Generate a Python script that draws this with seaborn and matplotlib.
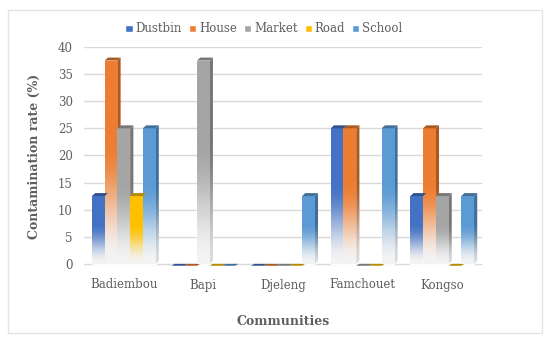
import numpy as np
import pandas as pd
import matplotlib
matplotlib.use("Agg")
import matplotlib.pyplot as plt
import matplotlib.colors as mcolors
from matplotlib.patches import Polygon, Rectangle
import seaborn as sns

communities = ["Badiembou", "Bapi", "Djeleng", "Famchouet", "Kongso"]
sources = ["Dustbin", "House", "Market", "Road", "School"]
dustbin = [12.5, 0, 0, 25, 12.5]
house = [37.5, 0, 0, 25, 25]
market = [25, 37.5, 0, 0, 12.5]
road = [12.5, 0, 0, 0, 0]
school = [25, 0, 12.5, 25, 12.5]
yticks = [0, 5, 10, 15, 20, 25, 30, 35, 40]
colors = ["#4472C4", "#ED7D31", "#A5A5A5", "#FFC000", "#5B9BD5"]

series = {"Dustbin": dustbin, "House": house, "Market": market, "Road": road, "School": school}
rows = []
for s in sources:
    for c, v in zip(communities, series[s]):
        rows.append({"Community": c, "Source": s, "Rate": v})
df = pd.DataFrame(rows)

sns.set_theme(style="white")
plt.rcParams["font.family"] = ["DejaVu Serif"]
txt = "#5F5F5F"

fig = plt.figure(figsize=(5.5, 3.41), dpi=100)
fig.patch.set_facecolor("white")
fig.add_artist(Rectangle((8 / 550, 1 - 333 / 341), 534 / 550, 323 / 341,
                         transform=fig.transFigure, fill=False,
                         edgecolor="#E3E3E3", linewidth=1.0))
ax = fig.add_axes([84 / 550, 1 - 266 / 341, 398 / 550, 219 / 341])

sns.barplot(data=df, x="Community", y="Rate", hue="Source", order=communities,
            hue_order=sources, palette=colors, width=0.8, dodge=True, ax=ax,
            saturation=1, legend=True)

ax.set_yticks(yticks)
ax.yaxis.grid(True, color="#D9D9D9", linewidth=1.0)
ax.set_axisbelow(True)
for sp in ax.spines.values():
    sp.set_visible(False)

dx = 0.04
dy = 0.55
grad_n = 200
base_white = np.array(mcolors.to_rgb("#F4F4F4"))
for i, s in enumerate(sources):
    col = np.array(mcolors.to_rgb(colors[i]))
    dark = col * 0.72
    for j, c in enumerate(communities):
        idx = i * len(communities) + j
        p = ax.patches[idx]
        x0 = p.get_x()
        w = p.get_width()
        h = p.get_height()
        if h <= 0:
            p.set_visible(False)
            slab = Polygon([[x0, -0.35], [x0 + w, -0.35], [x0 + w + dx, 0.0], [x0 + dx, 0.0]],
                           closed=True, facecolor=dark, edgecolor="none", zorder=3,
                           clip_on=False)
            ax.add_patch(slab)
            continue
        p.set_zorder(3)
        t = np.linspace(0, 1, grad_n)
        m = np.clip(t / 0.6, 0, 1)
        m = m * m * (3 - 2 * m)
        rgb = base_white[None, :] * (1 - m[:, None]) + col[None, :] * m[:, None]
        im = ax.imshow(rgb[:, None, :], extent=[x0, x0 + w, 0, h], origin="lower",
                       aspect="auto", zorder=3.5, interpolation="bilinear")
        im.set_clip_path(p)
        side_rgb = base_white[None, :] * (1 - m[:, None]) * 0.9 + dark[None, :] * m[:, None]
        side = Polygon([[x0 + w, 0], [x0 + w + dx, dy], [x0 + w + dx, h + dy], [x0 + w, h]],
                       closed=True, facecolor="none", edgecolor="none", zorder=3.4)
        ax.add_patch(side)
        im2 = ax.imshow(side_rgb[:, None, :], extent=[x0 + w, x0 + w + dx, 0, h + dy],
                        origin="lower", aspect="auto", zorder=3.4, interpolation="bilinear")
        im2.set_clip_path(side)
        top = Polygon([[x0, h], [x0 + w, h], [x0 + w + dx, h + dy], [x0 + dx, h + dy]],
                      closed=True, facecolor=dark, edgecolor="none", zorder=3.6)
        ax.add_patch(top)

ax.set_xlim(-0.5, len(communities) - 0.5)
ax.set_ylim(-0.4, 40)

ax.tick_params(axis="y", length=0, labelsize=8.5, colors=txt, pad=8)
ax.tick_params(axis="x", length=0, labelsize=8.5, colors=txt, pad=9)
ax.set_ylabel("Contamination rate (%)", fontsize=9, fontweight="bold", color=txt, labelpad=12)
ax.set_xlabel("Communities", fontsize=9, fontweight="bold", color=txt, labelpad=17)

leg = ax.legend(loc="center", bbox_to_anchor=(264 / 550, 1 - 29 / 341),
                bbox_transform=fig.transFigure, ncol=5, frameon=False,
                fontsize=8.5, handlelength=0.6, handleheight=0.5,
                handletextpad=0.25, columnspacing=0.6)
for t in leg.get_texts():
    t.set_color(txt)

fig.savefig("out.png", dpi=100, facecolor="white")
